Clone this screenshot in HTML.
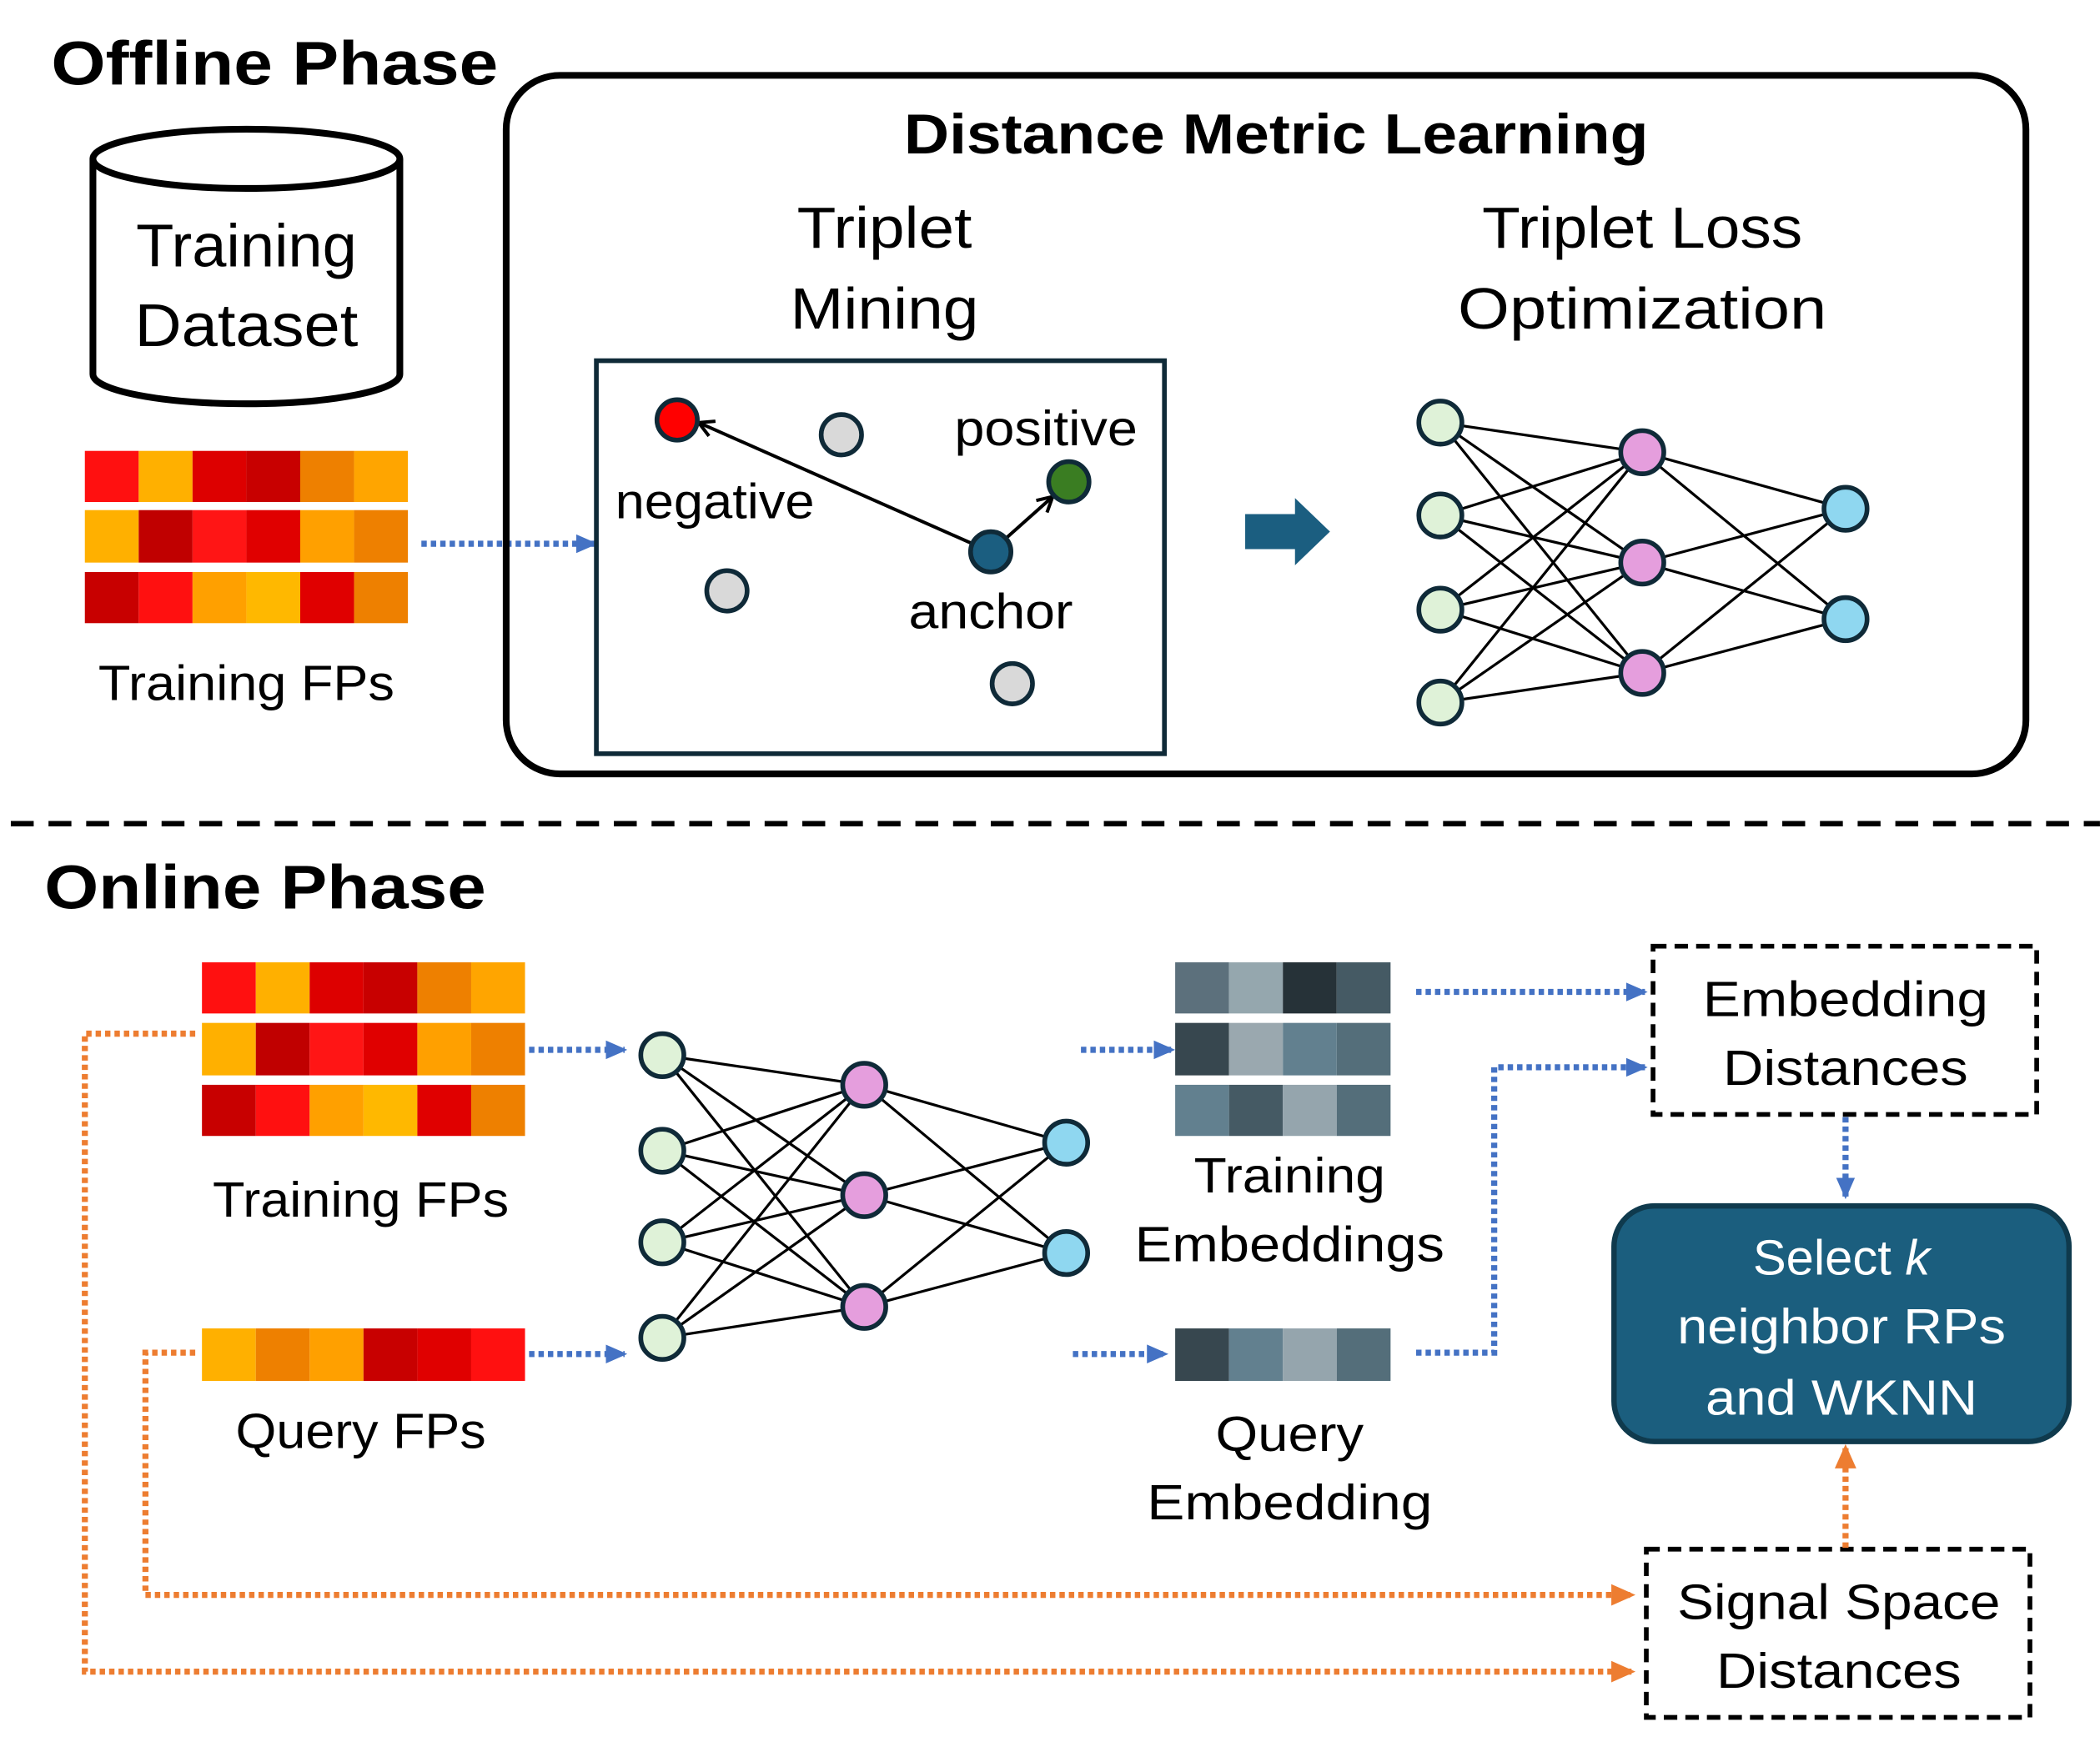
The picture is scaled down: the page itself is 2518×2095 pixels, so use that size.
<!DOCTYPE html>
<html><head><meta charset="utf-8"><style>html,body{margin:0;padding:0;background:#fff}svg{display:block}</style></head>
<body>
<svg width="2518" height="2095" viewBox="0 0 1560 1298" xmlns="http://www.w3.org/2000/svg" font-family="Liberation Sans, sans-serif">
<defs>
<marker id="ab" markerWidth="16" markerHeight="16" refX="14" refY="8" orient="auto" markerUnits="userSpaceOnUse" viewBox="0 0 16 16"><path d="M0,1 L16,8 L0,15 z" fill="#4472c4"/></marker>
<marker id="ao" markerWidth="18" markerHeight="18" refX="16" refY="9" orient="auto" markerUnits="userSpaceOnUse" viewBox="0 0 18 18"><path d="M0,1 L18,9 L0,17 z" fill="#ed7d31"/></marker>
<marker id="ak" markerWidth="14" markerHeight="14" refX="12" refY="7" orient="auto" markerUnits="userSpaceOnUse" viewBox="0 0 14 14"><path d="M1,1 L12,7 L1,13" fill="none" stroke="#000" stroke-width="2.5"/></marker>
</defs>
<rect width="1560" height="1298" fill="#fff"/>
<text x="38" y="63" font-size="46" font-weight="bold" textLength="332" lengthAdjust="spacingAndGlyphs">Offline Phase</text>
<path d="M69,118 L69,278 A114,22 0 0 0 297,278 L297,118" fill="#fff" stroke="#000" stroke-width="5"/>
<ellipse cx="183" cy="118" rx="114" ry="22" fill="#fff" stroke="#000" stroke-width="5"/>
<text x="183" y="198" font-size="45" text-anchor="middle" textLength="164" lengthAdjust="spacingAndGlyphs">Training</text>
<text x="183" y="257" font-size="45" text-anchor="middle" textLength="166" lengthAdjust="spacingAndGlyphs">Dataset</text>
<g>
<rect x="63" y="335" width="40" height="38" fill="#ff1010"/><rect x="103" y="335" width="40" height="38" fill="#ffb000"/><rect x="143" y="335" width="40" height="38" fill="#dd0000"/><rect x="183" y="335" width="40" height="38" fill="#c80000"/><rect x="223" y="335" width="40" height="38" fill="#ee8000"/><rect x="263" y="335" width="40" height="38" fill="#ffa500"/>
<rect x="63" y="379" width="40" height="39" fill="#ffb000"/><rect x="103" y="379" width="40" height="39" fill="#c00000"/><rect x="143" y="379" width="40" height="39" fill="#ff1515"/><rect x="183" y="379" width="40" height="39" fill="#e00000"/><rect x="223" y="379" width="40" height="39" fill="#ffa000"/><rect x="263" y="379" width="40" height="39" fill="#ee8000"/>
<rect x="63" y="425" width="40" height="38" fill="#c80000"/><rect x="103" y="425" width="40" height="38" fill="#ff1010"/><rect x="143" y="425" width="40" height="38" fill="#ffa000"/><rect x="183" y="425" width="40" height="38" fill="#ffb800"/><rect x="223" y="425" width="40" height="38" fill="#e00000"/><rect x="263" y="425" width="40" height="38" fill="#ee8000"/>
</g>
<text x="183" y="520" font-size="37" text-anchor="middle" textLength="220" lengthAdjust="spacingAndGlyphs">Training FPs</text>
<line x1="313" y1="404" x2="442" y2="404" stroke="#4472c4" stroke-width="4.5" stroke-dasharray="4 3" marker-end="url(#ab)"/>
<rect x="376" y="56" width="1129" height="519" rx="40" fill="none" stroke="#000" stroke-width="5"/>
<text x="948" y="114" font-size="42" font-weight="bold" text-anchor="middle" textLength="553" lengthAdjust="spacingAndGlyphs">Distance Metric Learning</text>
<text x="657" y="184" font-size="43" text-anchor="middle" textLength="130" lengthAdjust="spacingAndGlyphs">Triplet</text>
<text x="657" y="244" font-size="43" text-anchor="middle" textLength="140" lengthAdjust="spacingAndGlyphs">Mining</text>
<text x="1220" y="184" font-size="43" text-anchor="middle" textLength="238" lengthAdjust="spacingAndGlyphs">Triplet Loss</text>
<text x="1220" y="244" font-size="43" text-anchor="middle" textLength="274" lengthAdjust="spacingAndGlyphs">Optimization</text>
<rect x="443" y="268" width="422" height="292" fill="none" stroke="#0f2a38" stroke-width="3.5"/>
<line x1="736" y1="410" x2="519" y2="314" stroke="#000" stroke-width="2.5" marker-end="url(#ak)"/>
<line x1="736" y1="410" x2="782" y2="369" stroke="#000" stroke-width="2.5" marker-end="url(#ak)"/>
<g stroke="#0f2a38" stroke-width="3.5">
<circle cx="503" cy="312" r="15" fill="#ff0000"/>
<circle cx="625" cy="323" r="15" fill="#d9d9d9"/>
<circle cx="794" cy="358" r="15" fill="#3a7d22"/>
<circle cx="736" cy="410" r="15" fill="#1b5e80"/>
<circle cx="540" cy="439" r="15" fill="#d9d9d9"/>
<circle cx="752" cy="508" r="15" fill="#d9d9d9"/>
</g>
<text x="709" y="331" font-size="37" textLength="136" lengthAdjust="spacingAndGlyphs">positive</text>
<text x="457" y="385" font-size="37" textLength="148" lengthAdjust="spacingAndGlyphs">negative</text>
<text x="675" y="467" font-size="37" textLength="122" lengthAdjust="spacingAndGlyphs">anchor</text>
<path d="M925,382 L962,382 L962,370 L988,395 L962,420 L962,408 L925,408 z" fill="#1b5e80"/>
<g stroke="#000" stroke-width="2">
<path d="M1070,314 L1220,336 M1070,314 L1220,418 M1070,314 L1220,500 M1070,383 L1220,336 M1070,383 L1220,418 M1070,383 L1220,500 M1070,453 L1220,336 M1070,453 L1220,418 M1070,453 L1220,500 M1070,522 L1220,336 M1070,522 L1220,418 M1070,522 L1220,500 M1220,336 L1371,378 M1220,336 L1371,460 M1220,418 L1371,378 M1220,418 L1371,460 M1220,500 L1371,378 M1220,500 L1371,460"/>
</g>
<g stroke="#0f2a38" stroke-width="3.5">
<circle cx="1070" cy="314" r="16" fill="#dff2d8"/><circle cx="1070" cy="383" r="16" fill="#dff2d8"/><circle cx="1070" cy="453" r="16" fill="#dff2d8"/><circle cx="1070" cy="522" r="16" fill="#dff2d8"/>
<circle cx="1220" cy="336" r="16" fill="#e59edd"/><circle cx="1220" cy="418" r="16" fill="#e59edd"/><circle cx="1220" cy="500" r="16" fill="#e59edd"/>
<circle cx="1371" cy="378" r="16" fill="#8fd7f0"/><circle cx="1371" cy="460" r="16" fill="#8fd7f0"/>
</g>
<line x1="0" y1="612" x2="1560" y2="612" stroke="#000" stroke-width="4" stroke-dasharray="17 11" stroke-dashoffset="-8"/>
<text x="33" y="675" font-size="46" font-weight="bold" textLength="328" lengthAdjust="spacingAndGlyphs">Online Phase</text>
<g>
<rect x="150" y="715" width="40" height="38" fill="#ff1010"/><rect x="190" y="715" width="40" height="38" fill="#ffb000"/><rect x="230" y="715" width="40" height="38" fill="#dd0000"/><rect x="270" y="715" width="40" height="38" fill="#c80000"/><rect x="310" y="715" width="40" height="38" fill="#ee8000"/><rect x="350" y="715" width="40" height="38" fill="#ffa500"/>
<rect x="150" y="760" width="40" height="39" fill="#ffb000"/><rect x="190" y="760" width="40" height="39" fill="#c00000"/><rect x="230" y="760" width="40" height="39" fill="#ff1515"/><rect x="270" y="760" width="40" height="39" fill="#e00000"/><rect x="310" y="760" width="40" height="39" fill="#ffa000"/><rect x="350" y="760" width="40" height="39" fill="#ee8000"/>
<rect x="150" y="806" width="40" height="38" fill="#c80000"/><rect x="190" y="806" width="40" height="38" fill="#ff1010"/><rect x="230" y="806" width="40" height="38" fill="#ffa000"/><rect x="270" y="806" width="40" height="38" fill="#ffb800"/><rect x="310" y="806" width="40" height="38" fill="#e00000"/><rect x="350" y="806" width="40" height="38" fill="#ee8000"/>
<rect x="150" y="987" width="40" height="39" fill="#ffb000"/><rect x="190" y="987" width="40" height="39" fill="#ee8000"/><rect x="230" y="987" width="40" height="39" fill="#ffa000"/><rect x="270" y="987" width="40" height="39" fill="#c80000"/><rect x="310" y="987" width="40" height="39" fill="#e00000"/><rect x="350" y="987" width="40" height="39" fill="#ff1010"/>
</g>
<text x="268" y="904" font-size="37" text-anchor="middle" textLength="220" lengthAdjust="spacingAndGlyphs">Training FPs</text>
<text x="268" y="1076" font-size="37" text-anchor="middle" textLength="186" lengthAdjust="spacingAndGlyphs">Query FPs</text>
<g stroke="#4472c4" stroke-width="4.5" stroke-dasharray="4 3" fill="none">
<line x1="393" y1="780" x2="464" y2="780" marker-end="url(#ab)"/>
<line x1="393" y1="1006" x2="464" y2="1006" marker-end="url(#ab)"/>
<line x1="803" y1="780" x2="871" y2="780" marker-end="url(#ab)"/>
<line x1="797" y1="1006" x2="866" y2="1006" marker-end="url(#ab)"/>
<line x1="1052" y1="737" x2="1222" y2="737" marker-end="url(#ab)"/>
<path d="M1052,1005 L1110,1005 L1110,793 L1222,793" marker-end="url(#ab)"/>
<line x1="1371" y1="830" x2="1371" y2="889" marker-end="url(#ab)"/>
</g>
<g stroke="#000" stroke-width="2">
<path d="M492,784 L642,806 M492,784 L642,888 M492,784 L642,971 M492,855 L642,806 M492,855 L642,888 M492,855 L642,971 M492,923 L642,806 M492,923 L642,888 M492,923 L642,971 M492,994 L642,806 M492,994 L642,888 M492,994 L642,971 M642,806 L792,849 M642,806 L792,931 M642,888 L792,849 M642,888 L792,931 M642,971 L792,849 M642,971 L792,931"/>
</g>
<g stroke="#0f2a38" stroke-width="3.5">
<circle cx="492" cy="784" r="16" fill="#dff2d8"/><circle cx="492" cy="855" r="16" fill="#dff2d8"/><circle cx="492" cy="923" r="16" fill="#dff2d8"/><circle cx="492" cy="994" r="16" fill="#dff2d8"/>
<circle cx="642" cy="806" r="16" fill="#e59edd"/><circle cx="642" cy="888" r="16" fill="#e59edd"/><circle cx="642" cy="971" r="16" fill="#e59edd"/>
<circle cx="792" cy="849" r="16" fill="#8fd7f0"/><circle cx="792" cy="931" r="16" fill="#8fd7f0"/>
</g>
<g>
<rect x="873" y="715" width="40" height="38" fill="#5c707c"/><rect x="913" y="715" width="40" height="38" fill="#95a7ae"/><rect x="953" y="715" width="40" height="38" fill="#263238"/><rect x="993" y="715" width="40" height="38" fill="#455a64"/>
<rect x="873" y="760" width="40" height="39" fill="#37474f"/><rect x="913" y="760" width="40" height="39" fill="#9aa8af"/><rect x="953" y="760" width="40" height="39" fill="#62808f"/><rect x="993" y="760" width="40" height="39" fill="#546e7a"/>
<rect x="873" y="806" width="40" height="38" fill="#62808f"/><rect x="913" y="806" width="40" height="38" fill="#455a64"/><rect x="953" y="806" width="40" height="38" fill="#95a5ad"/><rect x="993" y="806" width="40" height="38" fill="#546e7a"/>
<rect x="873" y="987" width="40" height="39" fill="#37474f"/><rect x="913" y="987" width="40" height="39" fill="#62808f"/><rect x="953" y="987" width="40" height="39" fill="#95a5ad"/><rect x="993" y="987" width="40" height="39" fill="#546e7a"/>
</g>
<text x="958" y="886" font-size="37" text-anchor="middle" textLength="142" lengthAdjust="spacingAndGlyphs">Training</text>
<text x="958" y="937" font-size="37" text-anchor="middle" textLength="230" lengthAdjust="spacingAndGlyphs">Embeddings</text>
<text x="958" y="1078" font-size="37" text-anchor="middle" textLength="110" lengthAdjust="spacingAndGlyphs">Query</text>
<text x="958" y="1129" font-size="37" text-anchor="middle" textLength="212" lengthAdjust="spacingAndGlyphs">Embedding</text>
<rect x="1228" y="703" width="285" height="125" fill="#fff" stroke="#000" stroke-width="3.5" stroke-dasharray="10 6"/>
<text x="1371" y="755" font-size="37" text-anchor="middle" textLength="212" lengthAdjust="spacingAndGlyphs">Embedding</text>
<text x="1371" y="806" font-size="37" text-anchor="middle" textLength="182" lengthAdjust="spacingAndGlyphs">Distances</text>
<rect x="1199" y="896" width="338" height="175" rx="30" fill="#1b5e7e" stroke="#0f3a4d" stroke-width="4"/>
<text x="1368" y="947" font-size="37" fill="#fff" text-anchor="middle">Select <tspan font-style="italic">k</tspan></text>
<text x="1368" y="998" font-size="37" fill="#fff" text-anchor="middle" textLength="244" lengthAdjust="spacingAndGlyphs">neighbor RPs</text>
<text x="1368" y="1051" font-size="37" fill="#fff" text-anchor="middle" textLength="202" lengthAdjust="spacingAndGlyphs">and WKNN</text>
<rect x="1223" y="1151" width="285" height="125" fill="#fff" stroke="#000" stroke-width="3.5" stroke-dasharray="10 6"/>
<text x="1366" y="1203" font-size="37" text-anchor="middle" textLength="240" lengthAdjust="spacingAndGlyphs">Signal Space</text>
<text x="1366" y="1254" font-size="37" text-anchor="middle" textLength="182" lengthAdjust="spacingAndGlyphs">Distances</text>
<g stroke="#ed7d31" stroke-width="4.5" stroke-dasharray="4 3" fill="none">
<path d="M145,768 L63,768 L63,1242 L1213,1242" marker-end="url(#ao)"/>
<path d="M145,1005 L108,1005 L108,1185 L1213,1185" marker-end="url(#ao)"/>
<line x1="1371" y1="1150" x2="1371" y2="1075" marker-end="url(#ao)"/>
</g>
</svg>
</body></html>
